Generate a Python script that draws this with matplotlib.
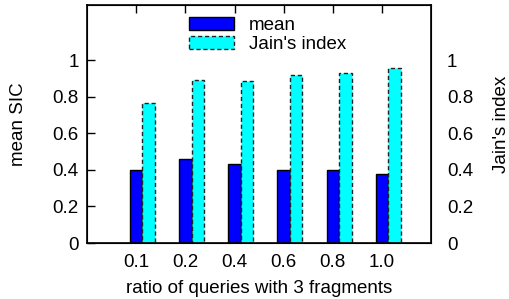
import matplotlib
matplotlib.use("Agg")
import matplotlib.pyplot as plt
import numpy as np

categories = ["0.1", "0.2", "0.4", "0.6", "0.8", "1.0"]
mean_sic = [0.40, 0.46, 0.43, 0.40, 0.40, 0.38]
jain_index = [0.765, 0.893, 0.886, 0.917, 0.930, 0.954]

plt.rcParams["font.family"] = ["Liberation Sans", "DejaVu Sans"]
plt.rcParams["font.size"] = 13.5

fig = plt.figure(figsize=(5.09, 2.99), dpi=100)
ax = fig.add_axes([0.171, 0.187, 0.676, 0.796])

x = np.arange(1, len(categories) + 1)
w = 0.255
ax.bar(x, mean_sic, w, color="#0000ff", edgecolor="black", linewidth=1.0,
       label="mean", zorder=2)
ax.bar(x + w, jain_index, w, color="#00ffff", edgecolor="#222222", linewidth=1.0,
       linestyle=(0, (3, 2)), label="Jain's index", zorder=2)

ax.set_xlim(0, 7)
ax.set_ylim(0, 1.3)
ax.set_xticks(x)
ax.set_xticklabels(categories)
ax.set_yticks([0, 0.2, 0.4, 0.6, 0.8, 1.0])
ax.set_yticklabels(["0", "0.2", "0.4", "0.6", "0.8", "1"])
ax.tick_params(axis="x", direction="in", top=True, length=6, width=1, pad=8)
ax.tick_params(axis="y", direction="in", right=True, length=6, width=1, pad=6)
ax.set_xlabel("ratio of queries with 3 fragments", labelpad=6)
ax.set_ylabel("mean SIC", labelpad=18)
for s in ax.spines.values():
    s.set_linewidth(1.2)

ax2 = ax.twinx()
ax2.set_ylim(0, 1.3)
ax2.set_yticks([0, 0.2, 0.4, 0.6, 0.8, 1.0])
ax2.set_yticklabels(["0", "0.2", "0.4", "0.6", "0.8", "1"])
ax2.tick_params(direction="in", length=0, pad=11.5)
ax2.set_ylabel("Jain's index", labelpad=14)

leg = ax.legend(loc="upper left", bbox_to_anchor=(0.352, 0.975),
                bbox_transform=fig.transFigure, frameon=False, borderpad=0,
                handlelength=2.4, handleheight=0.7, handletextpad=0.8,
                labelspacing=0.1)

fig.savefig("out.png", dpi=100)
